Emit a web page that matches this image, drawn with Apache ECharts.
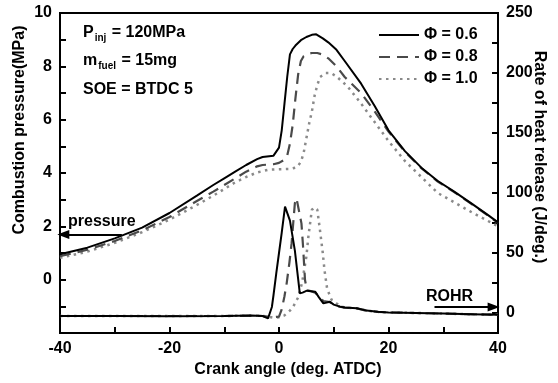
<!doctype html>
<html>
<head>
<meta charset="UTF-8">
<title>Combustion pressure and ROHR</title>
<script src="https://cdn.jsdelivr.net/npm/echarts@6/dist/echarts.min.js"></script>
<style>
  html, body { margin: 0; padding: 0; background: #fff; }
  #chart { width: 558px; height: 383px; }
</style>
</head>
<body>
<div id="chart"></div>
<script>
// crank angle (deg. ATDC) and combustion pressure (MPa)
var crankP06 = [-40,-35,-30,-25,-20,-15,-12,-10,-8,-6,-4,-3,-1,0,0.5,1,1.5,2,2.5,3,4,5,6,6.8,8,9,10.5,12,15,17.5,20,23,26,29,32,35,38,40];
var pres06   = [0.95,1.2,1.55,1.95,2.5,3.15,3.55,3.8,4.05,4.3,4.52,4.6,4.65,4.95,5.6,6.6,7.6,8.45,8.65,8.78,8.98,9.1,9.18,9.2,9.05,8.9,8.62,8.2,7.35,6.5,5.6,4.82,4.2,3.7,3.3,2.88,2.45,2.15];

var crankP08 = [-40,-35,-30,-25,-20,-15,-12,-10,-8,-6,-4,-3,-1,0,1,1.5,2,2.5,3,3.5,4,4.5,5,6,7,8,9,10.5,12,15,17.5,20,23,26,29,32,35,38,40];
var pres08   = [0.88,1.12,1.45,1.85,2.35,2.95,3.3,3.55,3.8,4.05,4.25,4.3,4.33,4.38,4.5,4.65,5.1,5.8,6.8,7.7,8.2,8.38,8.45,8.5,8.5,8.44,8.3,8.0,7.6,7.0,6.3,5.55,4.8,4.18,3.68,3.28,2.86,2.43,2.13];

var crankP10 = [-40,-35,-30,-25,-20,-15,-12,-10,-8,-6,-4,-2,0,2,3,3.5,4,4.5,5,5.5,6,6.5,7,7.5,8.5,9.5,10.5,12.5,15,17.5,20,23,26,29,32,35,38,40];
var pres10   = [0.82,1.05,1.38,1.78,2.25,2.8,3.15,3.4,3.65,3.85,4.02,4.12,4.14,4.15,4.2,4.28,4.42,4.75,5.3,5.85,6.3,6.9,7.3,7.6,7.75,7.75,7.62,7.25,6.6,5.9,5.2,4.45,3.85,3.25,2.9,2.55,2.22,2.0];

// crank angle and rate of heat release (J/deg.)
var crankR06 = [-40,-30,-20,-10,-5,-3,-2,-1.3,-1,-0.5,0,0.5,1.1,2,2.9,3.8,4.3,5.1,6.6,7.3,8.1,9.3,10,11.1,12,14.2,16,18,20,25,30,35,40];
var rohr06   = [-2.5,-2.5,-2.8,-2.5,-2,-2.5,-4.5,5,15,33,50,67,88.6,77,52,16.4,17,18.6,17.8,13,8,9.4,7,5.3,4.5,3.9,2,1,0.5,0,-0.5,-1,-1.5];

var crankR08 = [-40,-30,-20,-10,-5,-3,-2,-1,0,0.5,1,1.4,1.9,2.3,2.6,2.9,3.2,3.5,4.1,4.4,4.75,5.1,5.6,6.6,7.3,8.1,9.3,10,11.1,12,14.2,16,18,20,25,30,35,40];
var rohr08   = [-2.5,-2.5,-2.5,-2.5,-2.2,-2.5,-3,-3.5,-3,3,14,24.7,42,58,75,91.5,95.6,94,74.7,55,27.5,19,18.5,17,14,10,9,7,5.3,4.5,3.9,2,1,0.5,0,-0.5,-1,-1.5];

var crankR10 = [-40,-30,-20,-10,-5,-3,-2,-1,0,1,2,2.6,3.5,4.2,5,5.4,6,6.5,7,7.4,8,8.3,8.8,9.6,10.5,11.1,12,14.2,16,18,20,25,30,35,40];
var rohr10   = [-2.5,-2.5,-2.5,-2.5,-2.2,-2.5,-3,-4,-3.5,-2,2,5.3,13,25,47,65,86,88,86,72,50,36,20,11,8,6,4.5,3.9,2,1,0.5,0,-0.5,-1,-1.5];

var seriesNames = ['Φ = 0.6', 'Φ = 0.8', 'Φ = 1.0'];
var leftLabels  = [0, 2, 4, 6, 8, 10];
var rightLabels = [0, 50, 100, 150, 200, 250];
var rightTicks  = [0, 25, 50, 75, 100, 125, 150, 175, 200, 225, 250];

function zip(xs, ys) {
  var out = [];
  for (var i = 0; i < xs.length; i++) out.push([xs[i], ys[i]]);
  return out;
}

var FONT = '"Liberation Sans", Arial, sans-serif';
var BOLD16 = 'bold 16px ' + FONT;
var styles = [
  { color: '#000000', width: 2, type: 'solid' },
  { color: '#4a4a4a', width: 2.2, type: [11, 7] },
  { color: '#8a8a8a', width: 2.5, type: [2.5, 4.5] }
];

function arrow(from, to) {
  return {
    silent: true,
    animation: false,
    symbol: ['none', 'triangle'],
    symbolSize: [9, 12],
    label: { show: false },
    lineStyle: { color: '#000', width: 2, type: 'solid' },
    itemStyle: { color: '#000' },
    data: [[{ coord: from }, { coord: to }]]
  };
}

function line(name, data, st, yIndex, extra) {
  var s = {
    name: name,
    type: 'line',
    yAxisIndex: yIndex,
    data: data,
    symbol: 'none',
    lineStyle: { color: st.color, width: st.width, type: st.type },
    itemStyle: { color: st.color },
    z: 3
  };
  if (extra) s.markLine = extra;
  return s;
}

var axisCommon = {
  axisLine: { onZero: false, lineStyle: { color: '#000', width: 2 } },
  axisTick: { inside: true, length: 6, lineStyle: { color: '#000', width: 2 } },
  splitLine: { show: false }
};

var chart = echarts.init(document.getElementById('chart'));
chart.setOption({
  animation: false,
  textStyle: { fontFamily: FONT, fontWeight: 'bold', color: '#000' },
  grid: { left: 60, right: 60, top: 13, bottom: 50, show: true, borderColor: '#000', borderWidth: 2 },
  legend: {
    data: seriesNames,
    orient: 'vertical',
    left: 373,
    top: 22,
    itemWidth: 40,
    itemHeight: 14,
    itemGap: 6,
    itemStyle: { opacity: 0 },
    textStyle: { fontFamily: FONT, fontWeight: 'bold', fontSize: 16, color: '#000' }
  },
  xAxis: {
    type: 'value',
    min: -40, max: 40, interval: 20,
    axisLine: axisCommon.axisLine,
    axisTick: axisCommon.axisTick,
    minorTick: { show: true, splitNumber: 2, length: 6, lineStyle: { color: '#000', width: 2 } },
    axisLabel: { fontFamily: FONT, fontWeight: 'bold', fontSize: 16, color: '#000', margin: 8 },
    splitLine: { show: false }
  },
  yAxis: [{
    type: 'value',
    min: -2, max: 10, interval: 2,
    axisLine: axisCommon.axisLine,
    axisTick: axisCommon.axisTick,
    minorTick: { show: true, splitNumber: 2, length: 6, lineStyle: { color: '#000', width: 2 } },
    axisLabel: { customValues: leftLabels, fontFamily: FONT, fontWeight: 'bold', fontSize: 16, color: '#000', margin: 8 },
    splitLine: { show: false }
  }, {
    type: 'value',
    position: 'right',
    min: -50 / 3, max: 250,
    axisLine: axisCommon.axisLine,
    axisTick: { inside: true, length: 6, customValues: rightTicks, lineStyle: { color: '#000', width: 2 } },
    axisLabel: { customValues: rightLabels, fontFamily: FONT, fontWeight: 'bold', fontSize: 16, color: '#000', margin: 8 },
    splitLine: { show: false }
  }],
  graphic: [{
    type: 'text', x: 20, y: 130, rotation: Math.PI / 2,
    style: { text: 'Combustion pressure(MPa)', font: BOLD16, fill: '#000', align: 'center', verticalAlign: 'middle' }
  }, {
    type: 'text', x: 539, y: 157, rotation: -Math.PI / 2,
    style: { text: 'Rate of heat release (J/deg.)', font: BOLD16, fill: '#000', align: 'center', verticalAlign: 'middle' }
  }, {
    type: 'text', x: 288, y: 370,
    style: { text: 'Crank angle (deg. ATDC)', font: BOLD16, fill: '#000', align: 'center', verticalAlign: 'middle' }
  }, {
    type: 'text', left: 83, top: 25,
    style: {
      text: '{b|P}{s|inj}{b| = 120MPa}',
      rich: {
        b: { fontFamily: FONT, fontWeight: 'bold', fontSize: 16, fill: '#000' },
        s: { fontFamily: FONT, fontWeight: 'bold', fontSize: 10, fill: '#000', padding: [10, 1, 0, 1] }
      }
    }
  }, {
    type: 'text', left: 83, top: 53,
    style: {
      text: '{b|m}{s|fuel}{b| = 15mg}',
      rich: {
        b: { fontFamily: FONT, fontWeight: 'bold', fontSize: 16, fill: '#000' },
        s: { fontFamily: FONT, fontWeight: 'bold', fontSize: 10, fill: '#000', padding: [10, 1, 0, 1] }
      }
    }
  }, {
    type: 'text', left: 83, top: 82,
    style: { text: 'SOE = BTDC 5', font: BOLD16, fill: '#000' }
  }, {
    type: 'text', left: 68, top: 214,
    style: { text: 'pressure', font: BOLD16, fill: '#000' }
  }, {
    type: 'text', left: 426, top: 289,
    style: { text: 'ROHR', font: BOLD16, fill: '#000' }
  }],
  series: [
    line(seriesNames[2], zip(crankP10, pres10), styles[2], 0),
    line(seriesNames[2], zip(crankR10, rohr10), styles[2], 1),
    line(seriesNames[1], zip(crankP08, pres08), styles[1], 0),
    line(seriesNames[1], zip(crankR08, rohr08), styles[1], 1),
    line(seriesNames[0], zip(crankP06, pres06), styles[0], 0, arrow([-28.7, 1.69], [-39.4, 1.69])),
    line(seriesNames[0], zip(crankR06, rohr06), styles[0], 1, arrow([28.4, 5], [39.2, 5]))
  ]
});
</script>
</body>
</html>
